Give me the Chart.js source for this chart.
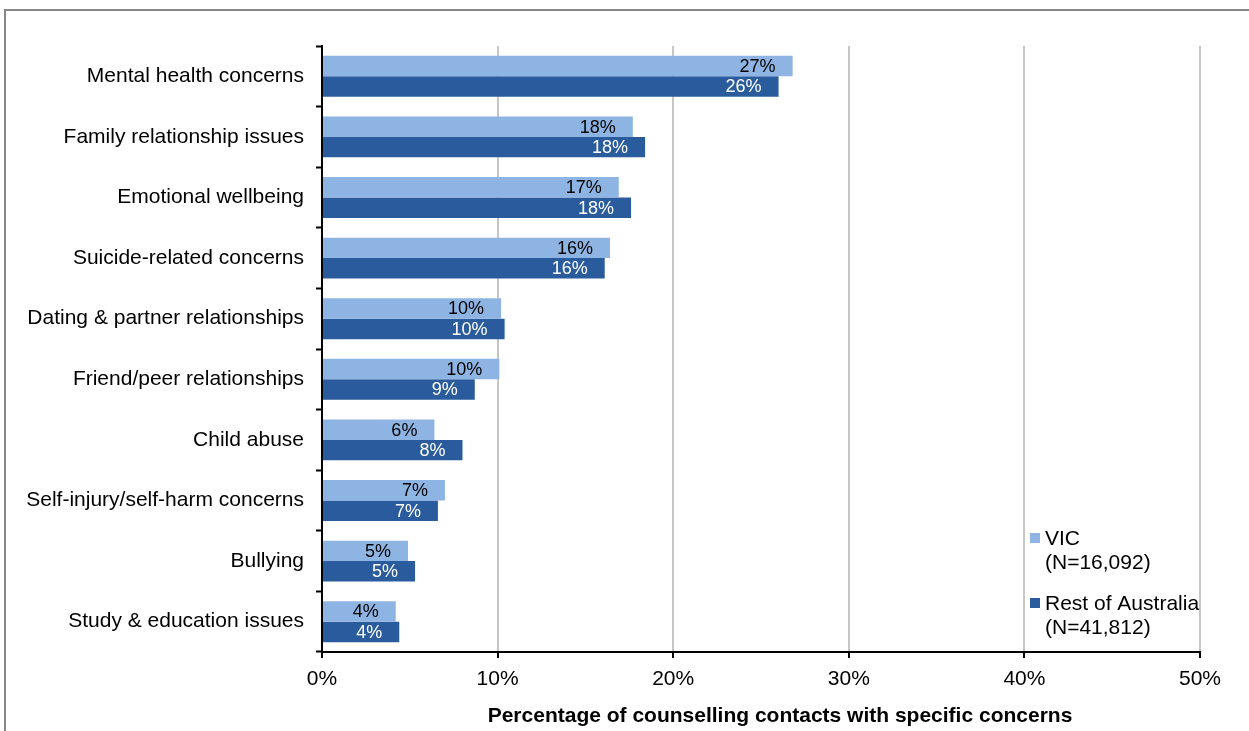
<!DOCTYPE html>
<html>
<head>
<meta charset="utf-8">
<script src="https://cdn.jsdelivr.net/npm/chart.js@4/dist/chart.umd.min.js"></script>
<style>
    html, body { margin: 0; padding: 0; background: #ffffff; }
    #wrap { width: 1249px; height: 731px; position: relative; }
</style>
</head>
<body>
<div id="wrap"><canvas id="concerns-chart"></canvas></div>
<script>
// Catégories (de haut en bas)
const categories = [
    'Mental health concerns',
    'Family relationship issues',
    'Emotional wellbeing',
    'Suicide-related concerns',
    'Dating & partner relationships',
    'Friend/peer relationships',
    'Child abuse',
    'Self-injury/self-harm concerns',
    'Bullying',
    'Study & education issues'
];

// Valeurs (%)
const vicValues = [26.8, 17.7, 16.9, 16.4, 10.2, 10.1, 6.4, 7.0, 4.9, 4.2];
const restValues = [26.0, 18.4, 17.6, 16.1, 10.4, 8.7, 8.0, 6.6, 5.3, 4.4];

// Légende
const seriesNames = ['VIC', 'Rest of Australia'];
const seriesCounts = ['(N=16,092)', '(N=41,812)'];
const xTicks = [0, 10, 20, 30, 40, 50];
const axisTitle = 'Percentage of counselling contacts with specific concerns';

const FONT = '"Liberation Sans", Arial, sans-serif';
const colors = ['#8EB4E3', '#2A5C9D'];

// Cadre gris autour du graphique
const framePlugin = {
    id: 'frame',
    beforeDraw(chart) {
        const c = chart.ctx;
        c.save();
        c.strokeStyle = '#878787';
        c.lineWidth = 2;
        c.strokeRect(5, 10, 1400, 900);
        c.restore();
    }
};

// Étiquettes de valeurs à l'intérieur des barres
const valueLabelPlugin = {
    id: 'valueLabels',
    afterDatasetsDraw(chart) {
        const c = chart.ctx;
        c.save();
        c.font = '18px ' + FONT;
        c.textAlign = 'right';
        c.textBaseline = 'middle';
        chart.data.datasets.forEach((ds, i) => {
            const meta = chart.getDatasetMeta(i);
            c.fillStyle = i === 0 ? '#000000' : '#ffffff';
            meta.data.forEach((bar, j) => {
                c.fillText(Math.round(ds.data[j]) + '%', bar.x - 17, bar.y + 1);
            });
        });
        c.restore();
    }
};

// Légende à deux lignes + titre de l'axe
const legendPlugin = {
    id: 'customLegend',
    afterDraw(chart) {
        const c = chart.ctx;
        const area = chart.chartArea;
        c.save();
        c.font = '21px ' + FONT;
        c.textBaseline = 'middle';
        c.textAlign = 'left';
        const x0 = area.right - 170;
        const rows = [area.bottom - 114, area.bottom - 49];
        seriesNames.forEach((name, i) => {
            const y = rows[i];
            c.fillStyle = colors[i];
            c.fillRect(x0, y - 5, 10, 10);
            c.fillStyle = '#000000';
            c.fillText(name, x0 + 15, y + 1);
            c.fillText(seriesCounts[i], x0 + 15, y + 25);
        });
        c.font = 'bold 21px ' + FONT;
        c.textAlign = 'center';
        c.fillText(axisTitle, 780, 716);
        c.restore();
    }
};

new Chart(document.getElementById('concerns-chart'), {
    type: 'bar',
    data: {
        labels: categories,
        datasets: [
            { label: seriesNames[0], data: vicValues, backgroundColor: colors[0] },
            { label: seriesNames[1], data: restValues, backgroundColor: colors[1] }
        ]
    },
    options: {
        indexAxis: 'y',
        responsive: true,
        maintainAspectRatio: false,
        animation: false,
        events: [],
        categoryPercentage: 0.675,
        barPercentage: 1,
        layout: {
            padding: { top: 46, right: 49, bottom: 0, left: 10 }
        },
        plugins: {
            legend: { display: false },
            tooltip: { enabled: false }
        },
        scales: {
            x: {
                min: 0,
                max: 50,
                afterBuildTicks(scale) {
                    scale.ticks = xTicks.map(v => ({ value: v }));
                },
                afterFit(scale) {
                    scale.height = 79;
                },
                ticks: {
                    callback: v => v + '%',
                    color: '#000000',
                    font: { family: FONT, size: 21 },
                    padding: 9,
                    maxRotation: 0
                },
                grid: {
                    color: '#C6C6C6',
                    lineWidth: 2,
                    tickColor: '#000000',
                    tickLength: 6,
                    tickWidth: 2
                },
                border: { color: '#000000', width: 2 }
            },
            y: {
                afterFit(scale) {
                    scale.width = 312;
                },
                ticks: {
                    color: '#000000',
                    font: { family: FONT, size: 21 },
                    padding: 12
                },
                grid: {
                    drawOnChartArea: false,
                    tickColor: '#000000',
                    tickLength: 6,
                    tickWidth: 2
                },
                border: { color: '#000000', width: 2 }
            }
        }
    },
    plugins: [framePlugin, valueLabelPlugin, legendPlugin]
});
</script>
</body>
</html>
